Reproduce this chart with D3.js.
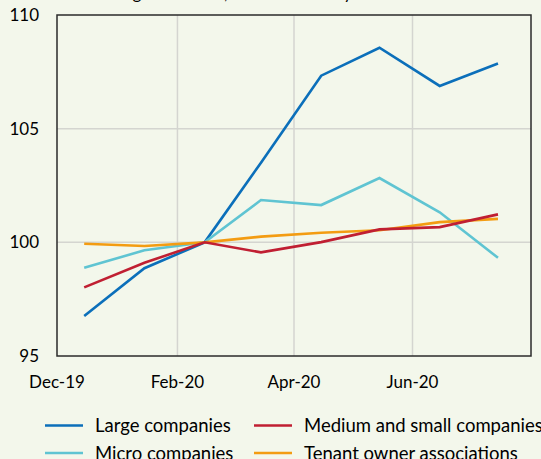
<!DOCTYPE html>
<html>
<head>
<meta charset="utf-8">
<script src="https://cdn.jsdelivr.net/npm/d3@7"></script>
<style>
  html, body { margin: 0; padding: 0; background: #f3f7eb; }
  #chart { width: 541px; height: 459px; }
</style>
</head>
<body>
<div id="chart"></div>
<script>
// ========== DATA ==========
const months = ["2019-12-15", "2020-01-15", "2020-02-15", "2020-03-15",
                "2020-04-15", "2020-05-15", "2020-06-15", "2020-07-15"];
const largeCompanies = [96.76, 98.86, 100, 103.5, 107.33, 108.56, 106.88, 107.87];
const microCompanies = [98.88, 99.65, 100, 101.86, 101.64, 102.83, 101.32, 99.32];
const mediumSmallCompanies = [98.02, 99.1, 100, 99.56, 100.01, 100.57, 100.67, 101.23];
const tenantOwnerAssociations = [99.94, 99.84, 100, 100.25, 100.42, 100.53, 100.89, 101.03];

const seriesNames = ["Large companies", "Medium and small companies",
                     "Micro companies", "Tenant owner associations"];
const yTicks = [95, 100, 105, 110];
const xTicks = ["2019-12-01", "2020-02-01", "2020-04-01", "2020-06-01"];
const titleText = "Lending to all firms, indexed January 2020 = 100";

// ========== SETUP ==========
const width = 541, height = 459;
const plot = { left: 57, right: 531, top: 15, bottom: 356 };
const font = "Lato, 'Open Sans', sans-serif";
const parse = d3.timeParse("%Y-%m-%d");

const svg = d3.select("#chart").append("svg")
  .attr("width", width)
  .attr("height", height);

svg.append("rect")
  .attr("width", width)
  .attr("height", height)
  .style("fill", "#f3f7eb");

const x = d3.scaleTime()
  .domain([parse("2019-12-01"), parse("2020-08-01")])
  .range([plot.left, plot.right]);

const y = d3.scaleLinear()
  .domain([95, 110])
  .range([plot.bottom, plot.top]);

// title, mostly cut off by top of picture -> only descenders show
const title = svg.append("text")
  .attr("x", 0)
  .attr("y", -1)
  .style("font-family", font)
  .style("font-size", "17px")
  .style("fill", "#000")
  .text(titleText);
// line up the "g" of Lending with where it sits in the original
const gIdx = titleText.indexOf("g");
const gMid = title.node().getSubStringLength(0, gIdx) +
             title.node().getSubStringLength(gIdx, 1) / 2;
title.attr("x", 137 - gMid);

// ========== GRID ==========
const grid = svg.append("g").attr("class", "grid");

grid.selectAll(".hgrid")
  .data(yTicks.filter(d => d > 95 && d < 110))
  .join("line")
  .attr("x1", plot.left)
  .attr("x2", plot.right)
  .attr("y1", d => y(d))
  .attr("y2", d => y(d))
  .style("stroke", "#d4d5d0")
  .style("stroke-width", 1.5);

grid.selectAll(".vgrid")
  .data(xTicks.slice(1))
  .join("line")
  .attr("x1", d => x(parse(d)))
  .attr("x2", d => x(parse(d)))
  .attr("y1", plot.top)
  .attr("y2", plot.bottom)
  .style("stroke", "#d4d5d0")
  .style("stroke-width", 1.5);

// ========== LINES ==========
const series = [
  { name: seriesNames[0], values: largeCompanies, color: "#0b6fba" },
  { name: seriesNames[2], values: microCompanies, color: "#5fc4d2" },
  { name: seriesNames[3], values: tenantOwnerAssociations, color: "#f39c12" },
  { name: seriesNames[1], values: mediumSmallCompanies, color: "#c01f32" }
];

const line = d3.line()
  .x((d, i) => x(parse(months[i])))
  .y(d => y(d));

svg.append("g").attr("class", "lines")
  .selectAll("path")
  .data(series)
  .join("path")
  .attr("d", d => line(d.values))
  .style("fill", "none")
  .style("stroke", d => d.color)
  .style("stroke-width", 2.6);

// plot border
svg.append("rect")
  .attr("x", plot.left)
  .attr("y", plot.top)
  .attr("width", plot.right - plot.left)
  .attr("height", plot.bottom - plot.top)
  .style("fill", "none")
  .style("stroke", "#2b2b2b")
  .style("stroke-width", 1.5);

// ========== AXES LABELS ==========
svg.append("g").selectAll("text")
  .data(yTicks)
  .join("text")
  .attr("x", 39)
  .attr("y", d => y(d) + 6)
  .style("text-anchor", "end")
  .style("font-family", font)
  .style("font-size", "17px")
  .text(d => d);

const fmt = d3.timeFormat("%b-%y");
svg.append("g").selectAll("text")
  .data(xTicks)
  .join("text")
  .attr("x", d => x(parse(d)))
  .attr("y", 388)
  .style("text-anchor", "middle")
  .style("font-family", font)
  .style("font-size", "17px")
  .text(d => fmt(parse(d)));

// ========== LEGEND ==========
const legendItems = [
  { name: seriesNames[0], color: "#0b6fba", x: 45, y: 425.5 },
  { name: seriesNames[1], color: "#c01f32", x: 254, y: 425.5 },
  { name: seriesNames[2], color: "#5fc4d2", x: 45, y: 453 },
  { name: seriesNames[3], color: "#f39c12", x: 254, y: 453 }
];

const legend = svg.append("g").attr("class", "legend");
legendItems.forEach(item => {
  legend.append("line")
    .attr("x1", item.x)
    .attr("x2", item.x + 38)
    .attr("y1", item.y)
    .attr("y2", item.y)
    .style("stroke", item.color)
    .style("stroke-width", 2.6);
  legend.append("text")
    .attr("x", item.x + 50)
    .attr("y", item.y + 6.5)
    .style("font-family", font)
    .style("font-size", "18.5px")
    .text(item.name);
});
</script>
</body>
</html>
